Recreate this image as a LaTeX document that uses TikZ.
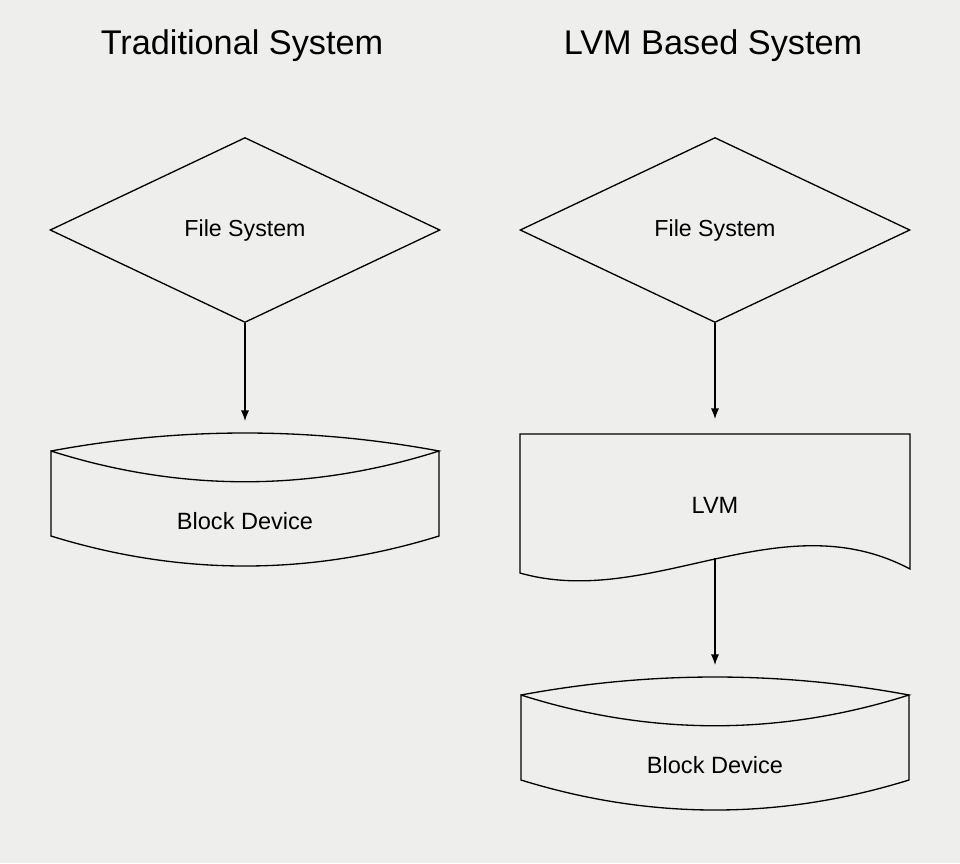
\documentclass[tikz,border=0pt]{standalone}
\usepackage{fontspec}
\setmainfont{Liberation Sans}
\usetikzlibrary{shapes.geometric,arrows.meta}
\tikzset{>={Latex[length=6pt,width=4.6pt]}}
\definecolor{paper}{RGB}{238,239,236}

\begin{document}
\begin{tikzpicture}[x=0.02cm,y=-0.02cm,line width=0.75pt,
  title/.style={font=\fontsize{19.5}{23}\selectfont},
  fsbox/.style={diamond,draw,inner sep=0pt,minimum width=7.8cm,
    minimum height=3.7cm,font=\fontsize{13.2}{16}\selectfont},
  boxtext/.style={font=\fontsize{13.4}{16}\selectfont}]
  \fill[paper] (0,0) rectangle (960,863);
  \useasboundingbox (0,0) rectangle (960,863);

  \node[title] (trad) at (242,46) {Traditional System};
  \node[title] (lvmsys) at (713,46) {LVM Based System};

  % traditional system
  \node[fsbox] (fs1) at (245,230) {File System};
  \node[boxtext] (bd1) at (245,521) {Block Device};
  \draw[shift={(bd1.center)}] (-194,-70) .. controls (-65,-94) and (65,-94) .. (194,-70)
    .. controls (65,-29) and (-65,-29) .. (-194,-70) -- (-194,15)
    .. controls (-65,55) and (65,55) .. (194,15) -- (194,-70);
  \draw[->] (fs1.south) -- ([yshift=2cm]bd1.center);

  % lvm based system
  \node[fsbox] (fs2) at (715,230) {File System};
  \node[boxtext] (lvm) at (715,505) {LVM};
  \draw[shift={(lvm.center)}] (-195,68) -- (-195,-71) -- (195,-71) -- (195,64)
    .. controls (65,-5) and (-65,105) .. cycle;
  \coordinate (lvmout) at ([yshift=-1.06cm]lvm.center);
  \node[boxtext] (bd2) at (715,765) {Block Device};
  \draw[shift={(bd2.center)}] (-194,-70) .. controls (-65,-94) and (65,-94) .. (194,-70)
    .. controls (65,-29) and (-65,-29) .. (-194,-70) -- (-194,15)
    .. controls (-65,55) and (65,55) .. (194,15) -- (194,-70);
  \draw[->] (fs2.south) -- ([yshift=1.72cm]lvm.center);
  \draw[->] (lvmout) -- ([yshift=2cm]bd2.center);
\end{tikzpicture}
\end{document}
